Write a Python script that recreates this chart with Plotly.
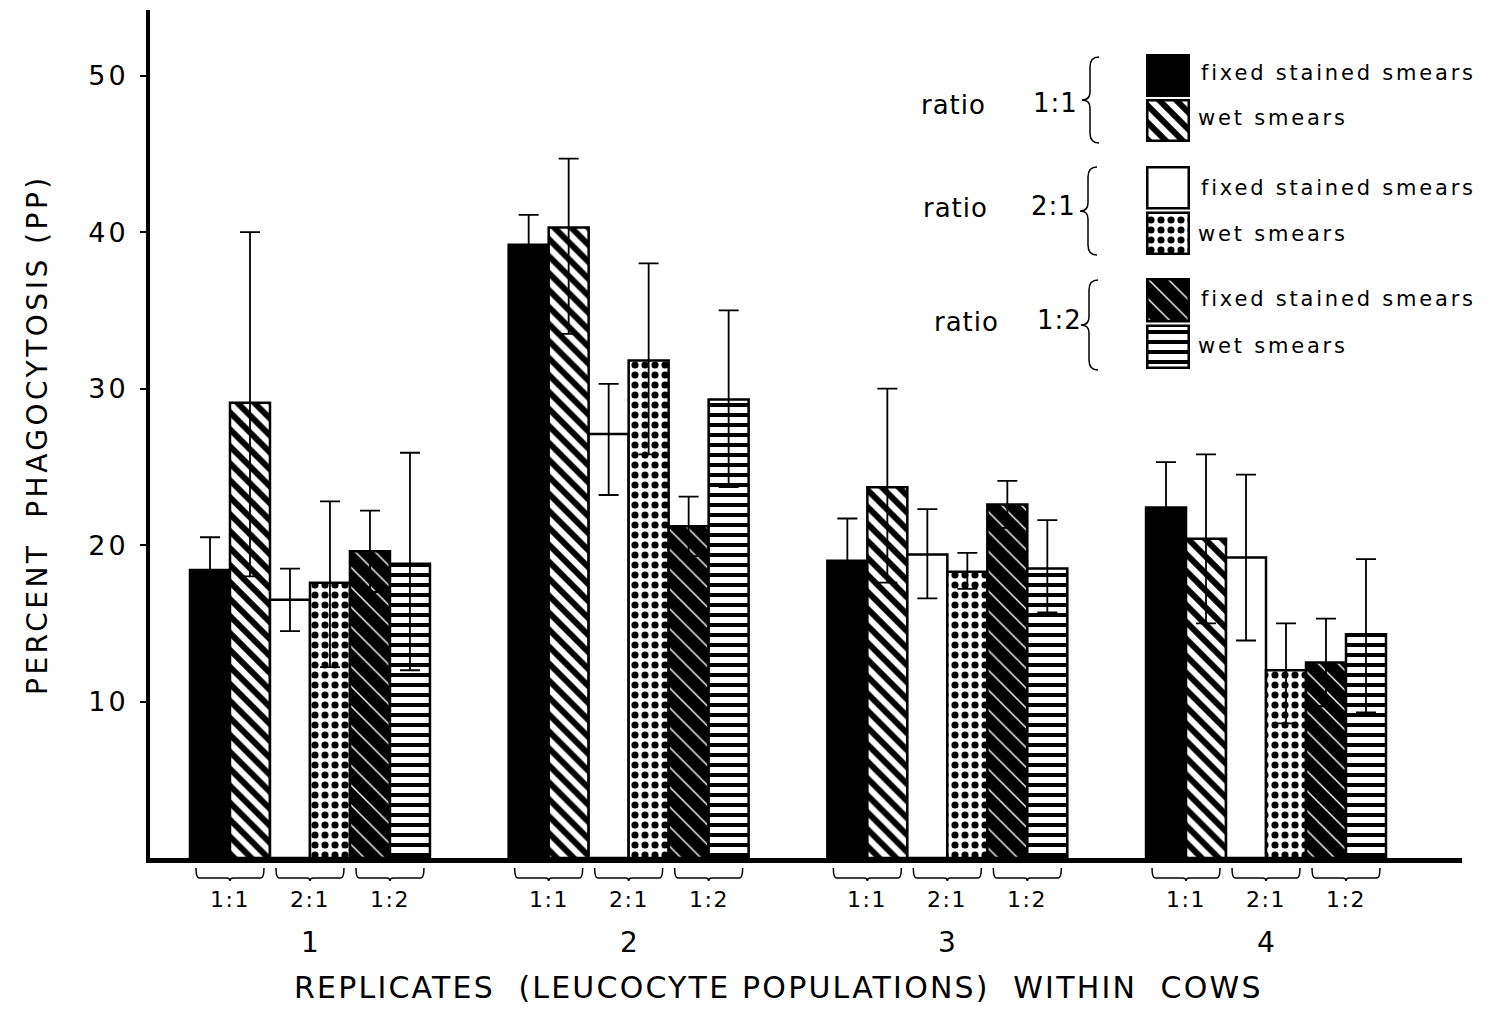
import plotly.graph_objects as go

# ---------------- data ----------------
groups = [1, 2, 3, 4]
group_labels = ["1", "2", "3", "4"]
ratio_labels = ["1:1", "2:1", "1:2"]

fixed_11 = [18.4, 39.2, 19.0, 22.4]
fixed_11_up = [2.1, 1.9, 2.7, 2.9]
fixed_11_dn = [2.1, 1.9, 2.7, 2.9]

wet_11 = [29.1, 40.3, 23.7, 20.4]
wet_11_up = [10.9, 4.4, 6.3, 5.4]
wet_11_dn = [11.1, 6.8, 6.1, 5.4]

fixed_21 = [16.5, 27.1, 19.4, 19.2]
fixed_21_up = [2.0, 3.2, 2.9, 5.3]
fixed_21_dn = [2.0, 3.9, 2.8, 5.3]

wet_21 = [17.6, 31.8, 18.3, 12.0]
wet_21_up = [5.2, 6.2, 1.2, 3.0]
wet_21_dn = [5.4, 6.0, 1.1, 3.4]

fixed_12 = [19.6, 21.2, 22.6, 12.5]
fixed_12_up = [2.6, 1.9, 1.5, 2.8]
fixed_12_dn = [2.6, 1.9, 1.5, 2.8]

wet_12 = [18.8, 29.3, 18.5, 14.3]
wet_12_up = [7.1, 5.7, 3.1, 4.8]
wet_12_dn = [6.8, 5.6, 2.8, 5.0]

legend_text = ["fixed stained smears", "wet smears"]
y_ticks = [10, 20, 30, 40, 50]
x_title = "REPLICATES  (LEUCOCYTE POPULATIONS)  WITHIN  COWS"
y_title = "PERCENT  PHAGOCYTOSIS (PP)"

# ---------------- styles ----------------
FONT = "DejaVu Sans"
styles = [
    dict(color="black", pattern=dict(shape="")),
    dict(color="white", pattern=dict(shape="\\", fgcolor="black", fgopacity=1, size=12, solidity=0.5, fillmode="overlay")),
    dict(color="white", pattern=dict(shape="")),
    dict(color="white", pattern=dict(shape=".", fgcolor="black", fgopacity=1, size=10, solidity=0.4, fillmode="overlay")),
    dict(color="black", pattern=dict(shape="\\", fgcolor="white", fgopacity=1, size=14, solidity=0.1, fillmode="overlay")),
    dict(color="white", pattern=dict(shape="-", fgcolor="black", fgopacity=1, size=10, solidity=0.4, fillmode="overlay")),
]
series = [
    (fixed_11, fixed_11_up, fixed_11_dn),
    (wet_11, wet_11_up, wet_11_dn),
    (fixed_21, fixed_21_up, fixed_21_dn),
    (wet_21, wet_21_up, wet_21_dn),
    (fixed_12, fixed_12_up, fixed_12_dn),
    (wet_12, wet_12_up, wet_12_dn),
]

# plot area geometry (pixels)
W, H = 1491, 1014
ML, MR, MT, MB = 150, 29, 10, 156
PW, PH = W - ML - MR, H - MT - MB
BARGAP = 0.247


def px(x):
    return (x - ML) / PW


def py(y):
    return (H - MB - y) / PH


def spaced(text, ls):
    return f'<span style="letter-spacing:{ls}px">{text}</span>'


def note(x, y, text, size, xref="paper", xanchor="center", angle=0, ls=0):
    return dict(x=x, y=y, xref=xref, yref="paper", text=spaced(text, ls) if ls else text,
                showarrow=False, xanchor=xanchor, yanchor="middle", textangle=angle,
                font=dict(family=FONT, size=size, color="black"))


fig = go.Figure()

for (vals, up, dn), st in zip(series, styles):
    fig.add_trace(go.Bar(
        x=groups, y=vals,
        marker=dict(color=st["color"], line=dict(color="black", width=2.5), pattern=st["pattern"]),
        error_y=dict(type="data", symmetric=False, array=up, arrayminus=dn,
                     color="black", thickness=1.8, width=10),
        showlegend=False, hoverinfo="skip",
    ))

# legend swatches on small auxiliary axes
swatch_axes = ["y2", "y3", "y4"]
for i, st in enumerate(styles):
    fig.add_trace(go.Bar(
        x=[1], y=[legend_text[i % 2]], orientation="h",
        xaxis="x2", yaxis=swatch_axes[i // 2],
        width=0.9, offset=-0.45, base=0,
        marker=dict(color=st["color"], line=dict(color="black", width=2.5), pattern=st["pattern"]),
        showlegend=False, hoverinfo="skip",
    ))

annotations = []
shapes = []

# group numbers and ratio sub-labels with braces
w = (1 - BARGAP) / 6
for g, gl in zip(groups, group_labels):
    annotations.append(note(g, py(942), gl, 28, xref="x"))
    for k, rl in enumerate(ratio_labels):
        c = g + (2 * k - 2) * w
        annotations.append(note(c, py(899), rl, 22, xref="x", ls=1.5))
        x0, x1 = c - 0.85 * w, c + 0.85 * w
        d = 0.08 * w
        yt, yb, ytip = py(868), py(878), py(881)
        path = (f"M {x0},{yt} Q {x0},{yb} {x0 + d},{yb} L {c - d},{yb} "
                f"Q {c},{yb} {c},{ytip} Q {c},{yb} {c + d},{yb} L {x1 - d},{yb} "
                f"Q {x1},{yb} {x1},{yt}")
        shapes.append(dict(type="path", path=path, xref="x", yref="paper",
                           line=dict(color="black", width=1.5)))

# axis titles
annotations.append(note(px(778), py(988), x_title, 30, ls=2.2))
annotations.append(note(px(38), py(435), y_title, 28, angle=-90, ls=3.5))

# legend texts and braces
legend_rows = [(105, 1055, 953, 57, 143, 1090), (208, 1053, 955, 167, 255, 1088), (322, 1059, 966, 280, 370, 1089)]
swatch_rows = [(73, 118), (188, 234), (299, 346)]
for (yc, xr, xratio, yb0, yb1, xm), rl, (ya, yb) in zip(legend_rows, ratio_labels, swatch_rows):
    annotations.append(note(px(xratio), py(yc), "ratio", 26, ls=1))
    annotations.append(note(px(xr), py(yc - 2), rl, 26, ls=1))
    xr_end, xl_tip = xm + 9, xm - 8
    ym = (yb0 + yb1) / 2
    pts = lambda x, y: f"{px(x)},{py(y)}"
    path = (f"M {pts(xr_end, yb0)} Q {pts(xm, yb0)} {pts(xm, yb0 + 10)} L {pts(xm, ym - 8)} "
            f"Q {pts(xm, ym)} {pts(xl_tip, ym)} Q {pts(xm, ym)} {pts(xm, ym + 8)} "
            f"L {pts(xm, yb1 - 10)} Q {pts(xm, yb1)} {pts(xr_end, yb1)}")
    shapes.append(dict(type="path", path=path, xref="paper", yref="paper",
                       line=dict(color="black", width=1.5)))
    annotations.append(note(px(1199), py(ya), legend_text[0], 21, xanchor="left", ls=2.8))
    annotations.append(note(px(1196), py(yb), legend_text[1], 21, xanchor="left", ls=2.8))

fig.update_layout(
    width=W, height=H,
    margin=dict(l=ML, r=MR, t=MT, b=MB),
    paper_bgcolor="white", plot_bgcolor="white",
    barmode="group", bargap=BARGAP, bargroupgap=0,
    showlegend=False,
    xaxis=dict(range=[0.498, 4.615], showline=True, linewidth=5, linecolor="black",
               showticklabels=False, ticks="", showgrid=False, zeroline=False),
    yaxis=dict(range=[0, 54.2], showline=True, linewidth=4, linecolor="black",
               tickvals=y_ticks, ticktext=[spaced(str(v), 3) for v in y_ticks],
               ticks="outside", ticklen=6, tickwidth=2, tickcolor="black",
               ticklabelstandoff=6, tickfont=dict(family=FONT, size=27, color="black"),
               showgrid=False, zeroline=False),
    xaxis2=dict(domain=[px(1146), px(1190)], range=[-0.03, 1.03], visible=False, anchor="y2"),
    yaxis2=dict(domain=[py(143), py(53)], type="category", autorange="reversed", visible=False, anchor="x2"),
    yaxis3=dict(domain=[py(256), py(165)], type="category", autorange="reversed", visible=False, anchor="x2"),
    yaxis4=dict(domain=[py(370), py(277)], type="category", autorange="reversed", visible=False, anchor="x2"),
    annotations=annotations,
    shapes=shapes,
)

fig.write_html("out.html")
